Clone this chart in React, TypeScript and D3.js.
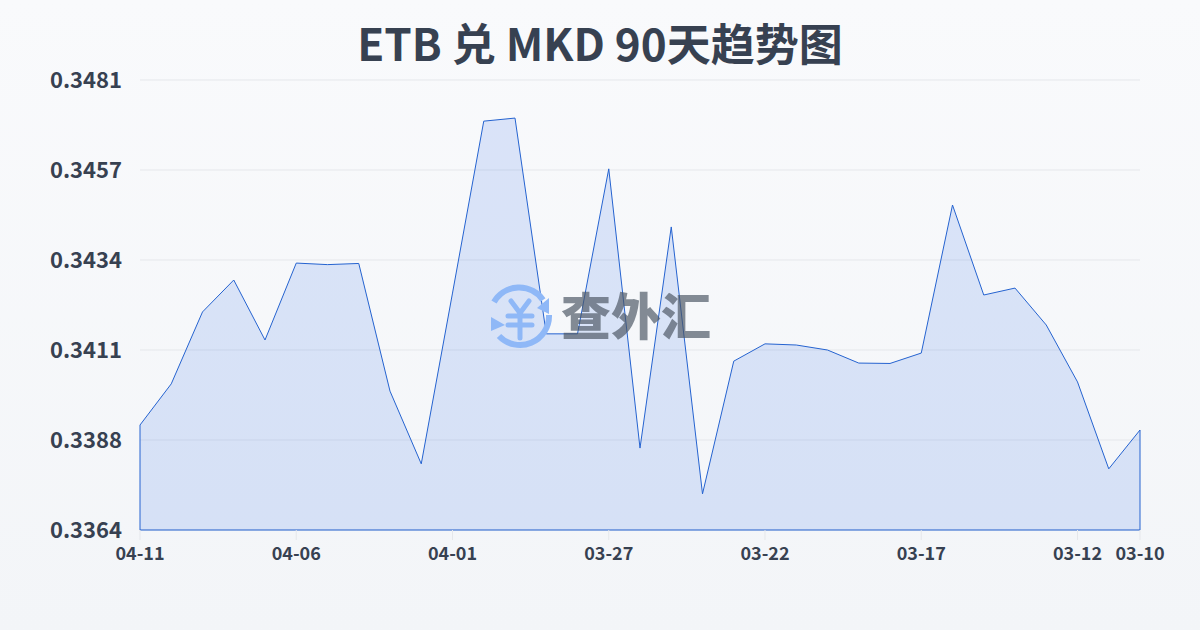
import React from "react";
import * as d3 from "d3";

const dates = ["04-11","04-10","04-09","04-08","04-07","04-06","04-05","04-04","04-03","04-02","04-01","03-31","03-30","03-29","03-28","03-27","03-26","03-25","03-24","03-23","03-22","03-21","03-20","03-19","03-18","03-17","03-16","03-15","03-14","03-13","03-12","03-11","03-10"];
const rates = [0.33913,0.3402,0.34207,0.3429,0.34134,0.34334,0.3433,0.34333,0.34001,0.33812,0.34256,0.34703,0.34711,0.3415,0.3415,0.34579,0.33853,0.34428,0.33734,0.34079,0.34124,0.34121,0.34108,0.34074,0.34073,0.341,0.34485,0.34251,0.34269,0.34173,0.34025,0.33799,0.339];
const yMin = 0.3364;
const yMax = 0.3481;
const yTickLabels = ["0.3364","0.3388","0.3411","0.3434","0.3457","0.3481"];
const xTickLabels = ["04-11","04-06","04-01","03-27","03-22","03-17","03-12","03-10"];
const title = "ETB 兑 MKD 90天趋势图";
const FONT = "'Noto Sans CJK SC','Noto Sans',sans-serif";

export default function App() {
  const x = d3.scalePoint<string>().domain(dates).range([140, 1140]);
  const y = d3.scaleLinear().domain([yMin, yMax]).range([530, 80]);
  const line = d3.line<number>().x((_, i) => x(dates[i])!).y((d) => y(d));
  const area = d3.area<number>().x((_, i) => x(dates[i])!).y0(530).y1((d) => y(d));
  const tickY = d3.scaleLinear().domain([0, yTickLabels.length - 1]).range([530, 80]);
  const linePts = rates.map((d, i) => [x(dates[i])!, y(d)] as [number, number]);
  const outline = `M140,530L${linePts.map((p) => p.join(",")).join("L")}L1140,530Z`;
  return (
    <svg width={1200} height={630} viewBox="0 0 1200 630" style={{ position: "fixed", left: 0, top: 0 }}>
      <defs>
        <linearGradient id="bg" x1="0" y1="0" x2="0" y2="1">
          <stop offset="0" stopColor="#f9fafc" />
          <stop offset="1" stopColor="#f3f5f8" />
        </linearGradient>
      </defs>
      <rect width={1200} height={630} fill="url(#bg)" />
      <text x={600} y={61} textAnchor="middle" fontFamily={FONT} fontWeight={700} fontSize={44} fill="#374151">{title}</text>
      {yTickLabels.map((t, i) => (
        <g key={t}>
          <line x1={140} x2={1140} y1={tickY(i)} y2={tickY(i)} stroke="#e5e7eb" strokeWidth={1} />
          <text x={122} y={tickY(i) + 8} textAnchor="end" fontFamily={FONT} fontWeight={700} fontSize={22} fill="#374151">{t}</text>
        </g>
      ))}
      <path d={area(rates) ?? ""} fill="#2563eb" fillOpacity={0.14} />
      <path d={outline} fill="none" stroke="#2563d0" strokeWidth={1} />
      {xTickLabels.map((t) => (
        <g key={t}>
          <line x1={x(t)} x2={x(t)} y1={530} y2={540} stroke="#e5e7eb" />
          <text x={x(t)} y={560} textAnchor="middle" fontFamily={FONT} fontWeight={700} fontSize={18} fill="#374151">{t}</text>
        </g>
      ))}
      <g>
        <path d="M494,302 A29,29 0 0 1 543,300" fill="none" stroke="#8fb8f7" strokeWidth={6} />
        <path d="M549,315 A29,29 0 0 1 499,336" fill="none" stroke="#8fb8f7" strokeWidth={6} transform="rotate(0)" />
        <path d="M549,298 L549,314 L537,308 Z" fill="#8fb8f7" />
        <path d="M491,317 L491,331 L505,325 Z" fill="#8fb8f7" />
        <path d="M511,301 L520,313 L529,301 M508,316 H532 M508,325 H532 M520,313 V338" fill="none" stroke="#8fb8f7" strokeWidth={5} strokeLinecap="round" />
        <text x={636} y={335} textAnchor="middle" fontFamily={FONT} fontWeight={900} fontSize={50} fill="#4b5563" fillOpacity={0.68}>查外汇</text>
      </g>
    </svg>
  );
}
